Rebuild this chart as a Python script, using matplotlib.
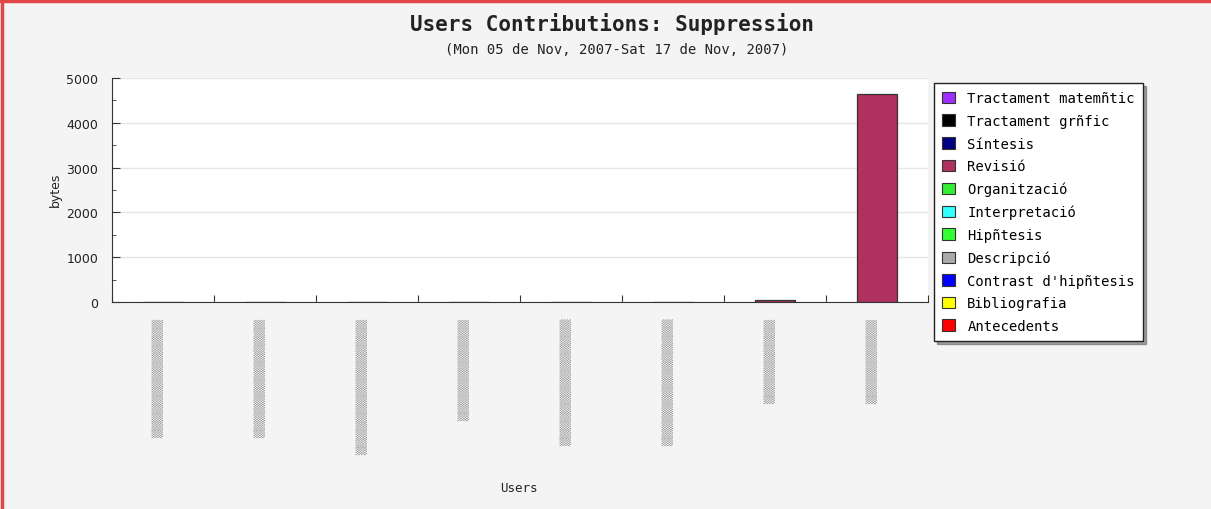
import numpy as np
import matplotlib
matplotlib.use("Agg")
import matplotlib.pyplot as plt
from matplotlib.patches import Patch
from matplotlib.lines import Line2D

# user names are pixelated in the source, so use blurred placeholders
users = ["▒" * n for n in [14, 14, 16, 12, 15, 15, 10, 10]]

series = ["Tractament matemñtic", "Tractament grñfic", "Síntesis", "Revisió",
          "Organització", "Interpretació", "Hipñtesis", "Descripció",
          "Contrast d'hipñtesis", "Bibliografia", "Antecedents"]
colors = ["#9b30ff", "#000000", "#000080", "#b03060", "#33ee33", "#33ffff",
          "#33ff33", "#aaaaaa", "#0000ff", "#ffff00", "#ff0000"]

values = {s: [0] * 8 for s in series}
values["Revisió"] = [0, 0, 0, 0, 0, 0, 40, 4650]

mono = "DejaVu Sans Mono"

fig = plt.figure(figsize=(12.11, 5.10), dpi=100)
fig.patch.set_facecolor("#f4f4f4")
ax = fig.add_axes([112/1211, 1-303/510, (928-112)/1211, (303-79)/510])
ax.set_facecolor("white")

x = np.arange(len(users))
bottom = np.zeros(len(users))
for s, c in zip(series[::-1], colors[::-1]):
    v = np.array(values[s], dtype=float)
    if v.sum() > 0:
        ax.bar(x, v, 0.4, bottom=bottom, color=c, edgecolor="#333333", linewidth=0.9, zorder=3)
    bottom += v

ax.set_xlim(-0.5, len(users) - 0.5)
ax.set_ylim(0, 5000)
ax.set_yticks(range(0, 5001, 1000))
ax.set_yticks(range(500, 5000, 1000), minor=True)
ax.yaxis.grid(True, color="#e6e6e6", linewidth=1, zorder=0)
ax.tick_params(axis="y", which="major", direction="in", length=6, labelsize=9, pad=10, colors="#333333", labelcolor="#222222")
ax.tick_params(axis="y", which="minor", direction="in", length=3, colors="#333333")

ax.set_xticks(np.arange(-0.5, len(users) + 0.5, 1))
ax.set_xticklabels([])
ax.tick_params(axis="x", direction="in", length=5, colors="#333333")
for xi, u in zip(x, users):
    ax.text(xi - 0.05, -0.07, u, transform=ax.get_xaxis_transform(), rotation=90,
            ha="center", va="top", fontsize=8, color="#999999")

for sp in ["top", "right"]:
    ax.spines[sp].set_visible(False)
for sp in ["left", "bottom"]:
    ax.spines[sp].set_color("#333333")

fig.text(55/1211, 1-190/510, "bytes", rotation=90, ha="center", va="center", fontsize=9, color="#222222")
fig.text(519/1211, 1-489/510, "Users", ha="center", va="center", fontsize=9, family=mono, color="#222222")

fig.text(612/1211, 1-24/510, "Users Contributions: Suppression", ha="center", va="center",
         fontsize=15, family=mono, weight="bold", color="#222222")
fig.text(617/1211, 1-50/510, "(Mon 05 de Nov, 2007-Sat 17 de Nov, 2007)", ha="center", va="center",
         fontsize=10, family=mono, color="#222222")

handles = [Patch(facecolor=c, edgecolor="#333333", linewidth=0.8) for c in colors]
leg = fig.legend(handles, series, loc="upper left", bbox_to_anchor=(934/1211, 1-84/510),
                 bbox_transform=fig.transFigure, borderaxespad=0, frameon=True, fancybox=False,
                 shadow=True, prop={"family": mono, "size": 10}, handlelength=0.9, handleheight=0.9,
                 labelspacing=0.62, handletextpad=0.9, borderpad=0.6)
leg.get_frame().set_edgecolor("#222222")
leg.get_frame().set_linewidth(1)

fig.add_artist(Line2D([0, 1], [1-2/510, 1-2/510], color="#e04848", linewidth=2.5, transform=fig.transFigure))
fig.add_artist(Line2D([2/1211, 2/1211], [0, 1], color="#e04848", linewidth=2.5, transform=fig.transFigure))

fig.savefig("out.png", dpi=100, facecolor=fig.get_facecolor())
